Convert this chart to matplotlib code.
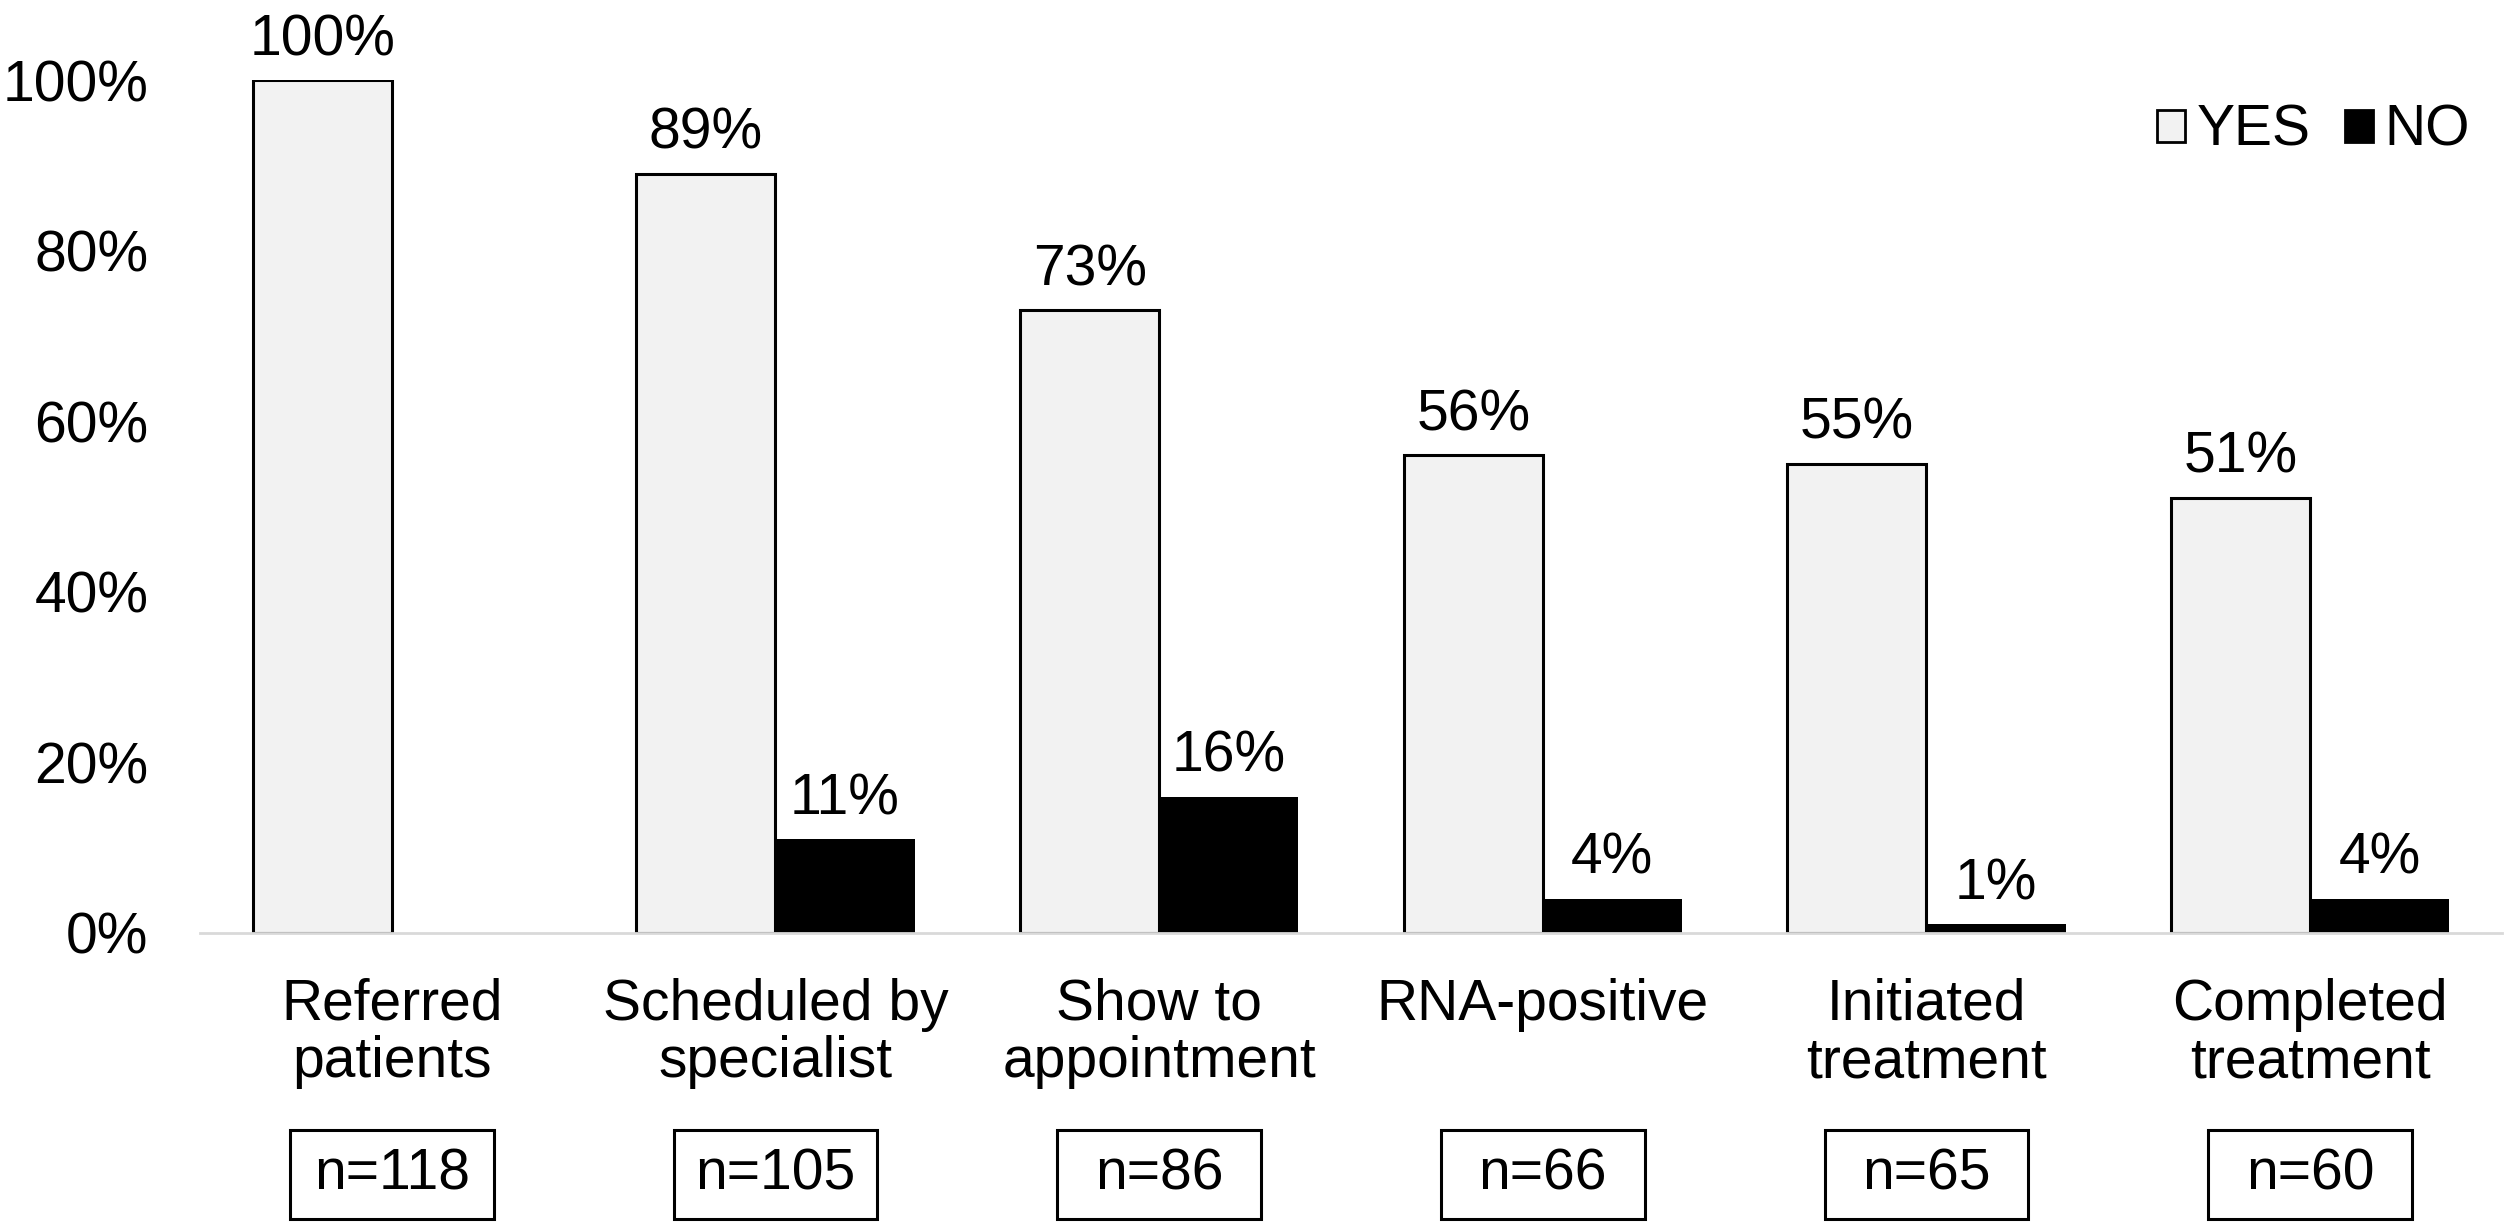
import matplotlib.pyplot as plt
from matplotlib.patches import Patch, Rectangle
from matplotlib.transforms import blended_transform_factory

plt.rcParams['font.family'] = ['Liberation Sans', 'DejaVu Sans']

# data
stages = ['Referred\npatients', 'Scheduled by\nspecialist', 'Show to\nappointment',
          'RNA-positive', 'Initiated\ntreatment', 'Completed\ntreatment']
yes_pct = [100, 89, 73, 56, 55, 51]
no_pct = [0, 11, 16, 4, 1, 4]
n_counts = [118, 105, 86, 66, 65, 60]
yticks = [0, 20, 40, 60, 80, 100]

W, H = 2508, 1228
fs = 41
fig = plt.figure(figsize=(W / 100, H / 100), dpi=100)
ax = fig.add_axes([200 / W, 295 / H, 2302 / W, 853 / H])

x = list(range(len(stages)))
bw = 0.3625
yes_bars = ax.bar([i - bw / 2 for i in x], yes_pct, bw, color='#f2f2f2',
                  edgecolor='black', linewidth=2.2, label='YES')
no_bars = ax.bar([i + bw / 2 for i in x], no_pct, bw, color='black',
                 linewidth=0, label='NO')

# value labels above the bars
for b, v in zip(yes_bars, yes_pct):
    ax.annotate(f'{v}%', (b.get_x() + b.get_width() / 2, v), xytext=(0, 18),
                textcoords='offset points', ha='center', va='baseline',
                fontsize=fs, annotation_clip=False)
for b, v in zip(no_bars, no_pct):
    if v == 0:
        continue
    ax.annotate(f'{v}%', (b.get_x() + b.get_width() / 2, v), xytext=(0, 18),
                textcoords='offset points', ha='center', va='baseline',
                fontsize=fs, annotation_clip=False)

ax.set_xlim(-0.5, len(stages) - 0.5)
ax.set_ylim(0, 100)
ax.set_yticks(yticks)
ax.set_yticklabels([f'{t}%' for t in yticks])
ax.tick_params(axis='y', length=0, pad=37, labelsize=fs)
ax.set_xticks([])
for s in ['top', 'right', 'left']:
    ax.spines[s].set_visible(False)
ax.spines['bottom'].set_color('#d9d9d9')
ax.spines['bottom'].set_linewidth(2)

# category names and n boxes below the axis
tr = blended_transform_factory(ax.transData, fig.transFigure)
for i, (name, n) in enumerate(zip(stages, n_counts)):
    ax.text(i, (H - 978) / H, name, transform=tr, ha='center', va='top',
            fontsize=fs, linespacing=1.08, clip_on=False)
    bx = 0.265
    ax.add_patch(Rectangle((i - bx, 9 / H), 2 * bx, 89 / H, transform=tr,
                           fill=False, edgecolor='black', linewidth=2.2,
                           clip_on=False))
    ax.text(i, 54 / H, f'n={n}', transform=tr, ha='center', va='center',
            fontsize=fs, clip_on=False)

handles = [Patch(facecolor='#f2f2f2', edgecolor='black', linewidth=2, label='YES'),
           Patch(facecolor='black', edgecolor='black', linewidth=2, label='NO')]
fig.legend(handles=handles, loc='center right', bbox_to_anchor=(2470 / W, 1 - 131 / H),
           ncol=2, frameon=False, fontsize=fs, handlelength=0.5, handleheight=0.5,
           handletextpad=0.2, columnspacing=0.6, borderpad=0, borderaxespad=0)

fig.savefig('out.png', dpi=100)
